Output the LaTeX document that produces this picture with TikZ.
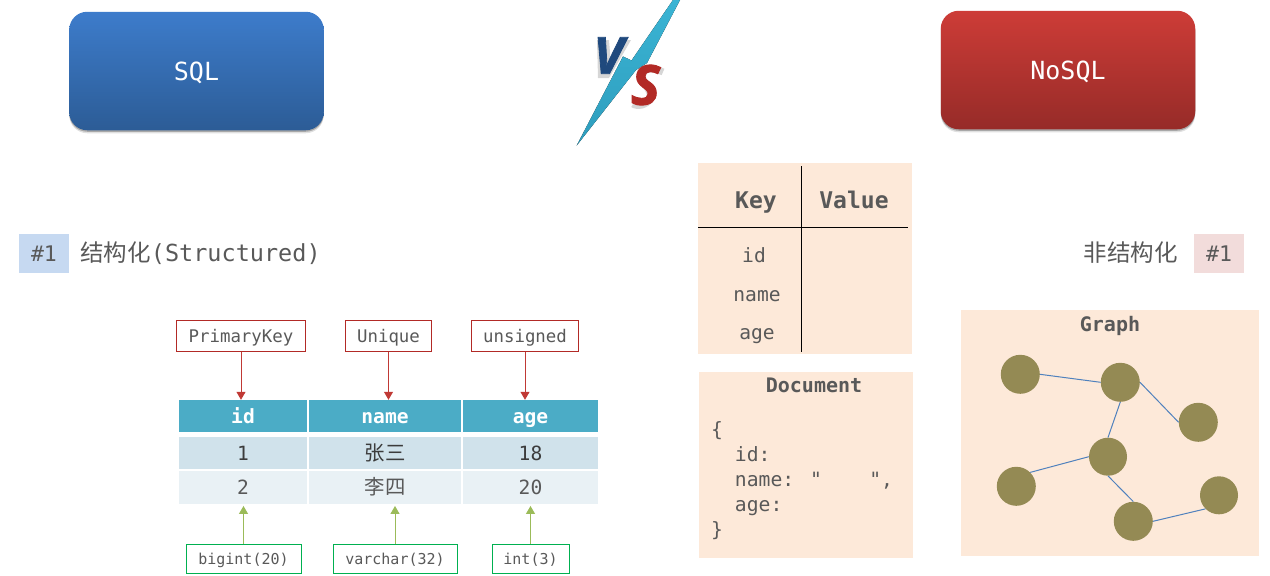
\documentclass[tikz,border=0pt]{standalone}
\usepackage{fontspec}
\setmainfont{Liberation Sans}
\newfontfamily\monofont{DejaVu Sans Mono}
\newfontfamily\cjk{Noto Sans CJK SC}
\newfontfamily\vsfont[BoldItalicFeatures={FakeBold=1.6}]{Open Sans}
\usepackage{tikz}
\usetikzlibrary{arrows.meta,shadows,positioning}
\definecolor{txtgray}{RGB}{89,89,89}
\definecolor{txtdark}{RGB}{60,60,60}
\definecolor{panelpeach}{RGB}{253,233,217}
\definecolor{headteal}{RGB}{75,172,198}
\definecolor{rowdark}{RGB}{208,226,235}
\definecolor{rowlight}{RGB}{233,241,245}
\definecolor{redline}{RGB}{192,57,53}
\definecolor{redborder}{RGB}{178,42,38}
\definecolor{greenline}{RGB}{155,187,89}
\definecolor{greenborder}{RGB}{0,176,80}
\definecolor{graphfill}{RGB}{148,138,84}
\definecolor{graphedge}{RGB}{79,129,189}
\definecolor{sqltop}{RGB}{61,124,203}
\definecolor{sqlbot}{RGB}{44,92,150}
\definecolor{nosqltop}{RGB}{205,60,55}
\definecolor{nosqlbot}{RGB}{150,43,40}
\definecolor{tagblue}{RGB}{198,217,241}
\definecolor{tagred}{RGB}{242,220,219}
\definecolor{vsblue}{RGB}{31,73,125}
\definecolor{bolttop}{RGB}{58,180,212}
\definecolor{boltbot}{RGB}{46,157,189}
\tikzset{
  bigbox/.style={rectangle,rounded corners=18pt,minimum width=254.5pt,minimum height=118.5pt,
    inner sep=0pt,text=white,text height=18pt,text depth=0pt,font=\monofont\fontsize{25}{28}\selectfont,
    drop shadow={shadow xshift=0pt,shadow yshift=-3pt,opacity=.12,fill=black},
    drop shadow={shadow xshift=0pt,shadow yshift=-1.5pt,opacity=.25,fill=black}},
  vsletter/.style={inner sep=0pt,font=\vsfont\bfseries\itshape\fontsize{55}{60}\selectfont},
  vsshadow/.style={black,opacity=.16},
  tagbox/.style={rectangle,minimum width=50pt,minimum height=38.5pt,inner sep=0pt,
    text=txtgray,text height=15.5pt,text depth=0pt,font=\monofont\fontsize{21.5}{24}\selectfont},
  headline/.style={inner sep=0pt,text=txtgray,text height=15.5pt,text depth=0pt,font=\fontsize{23.5}{28}\selectfont},
  headcell/.style={rectangle,fill=headteal,minimum height=32pt,inner sep=0pt,text=white,
    text height=14pt,text depth=0pt,font=\monofont\bfseries\fontsize{19.6}{22}\selectfont},
  rowcell/.style={rectangle,minimum height=32.5pt,inner sep=0pt,text=txtgray,
    text height=14pt,text depth=0pt,font=\monofont\fontsize{19.6}{22}\selectfont},
  cjkcell/.style={font=\cjk\fontsize{20.4}{22}\selectfont},
  redbox/.style={rectangle,draw=redborder,line width=1pt,fill=white,minimum height=31.5pt,inner sep=0pt,
    text=txtgray,text height=12.6pt,text depth=0pt,font=\monofont\fontsize{17.4}{20}\selectfont},
  greenbox/.style={rectangle,draw=greenborder,line width=1pt,fill=white,minimum height=29pt,inner sep=0pt,
    text=txtgray,text height=12pt,text depth=0pt,font=\monofont\fontsize{15}{18}\selectfont},
  redarr/.style={-{Triangle[length=8pt,width=9pt]},line width=1pt,color=redline},
  greenarr/.style={-{Triangle[length=8pt,width=9pt]},line width=1pt,color=greenline},
  panel/.style={rectangle,fill=panelpeach,inner sep=0pt},
  paneltitle/.style={inner sep=0pt,text=txtgray,text height=14pt,text depth=0pt,font=\monofont\bfseries\fontsize{20}{24}\selectfont},
  kvhead/.style={inner sep=0pt,text=txtgray,text height=16pt,text depth=0pt,font=\monofont\bfseries\fontsize{23}{26}\selectfont},
  kvtext/.style={inner sep=0pt,text=txtgray,text height=14pt,text depth=0pt,font=\monofont\fontsize{19.6}{22}\selectfont},
  kvline/.style={black,line width=1pt},
  graphnode/.style={circle,fill=graphfill,minimum size=39pt,inner sep=0pt},
  graphlink/.style={graphedge,line width=1pt}
}
\begin{document}
\begin{tikzpicture}[x=1pt,y=-1pt]
  \useasboundingbox (0,0) rectangle (1270,576);

  %% Title boxes
  \node[bigbox,top color=sqltop,bottom color=sqlbot] (sql) at (196.5,71) {SQL};
  \node[bigbox,top color=nosqltop,bottom color=nosqlbot] (nosql) at (1068,70) {NoSQL};

  %% VS mark
  \fill[vsshadow] (597,40) -- (609,40) -- (611,65) -- (625,40) -- (631,40) -- (609,78) -- (598,78) -- cycle;
  \draw[vsshadow,line width=7pt] (663,72) .. controls (650,65) and (638,70) .. (644,82)
    .. controls (650,92) and (656,100) .. (642,105) .. controls (638,106) and (634,105) .. (633,104);
  \fill[top color=bolttop,bottom color=boltbot]
    (576.7,145.5) -- (623,56.5) -- (631.5,60.5) -- (673,0) -- (680,0) -- (647,63) -- (636,70) -- cycle;
  \node[vsletter,text=vsblue,font=\vsfont\bfseries\itshape\fontsize{51}{60}\selectfont] (vsv) at (608.5,55.5) {V};
  \node[vsletter,text=redborder] (vss) at (645.5,85) {S};

  %% Section tags
  \node[tagbox,fill=tagblue] (tagl) at (44,253.3) {\#1};
  \node[headline,right=11pt of tagl] (headl) {{\cjk 结构化}{\monofont(Structured)}};
  \node[tagbox,fill=tagred] (tagr) at (1219,253.3) {\#1};
  \node[headline,left=16pt of tagr] (headr) {\cjk 非结构化};

  %% SQL table
  \node[headcell,minimum width=128pt] (hid) at (243,416) {id};
  \node[headcell,minimum width=152pt] (hname) at (385,416) {name};
  \node[headcell,minimum width=135pt] (hage) at (530.5,416) {age};
  \node[rowcell,fill=rowdark,text=txtdark,minimum width=128pt] (aid) at (243,453) {1};
  \node[rowcell,cjkcell,fill=rowdark,text=txtdark,minimum width=152pt] (aname) at (385,453) {张三};
  \node[rowcell,fill=rowdark,text=txtdark,minimum width=135pt] (aage) at (530.5,453) {18};
  \node[rowcell,fill=rowlight,minimum width=128pt] (bid) at (243,487.5) {2};
  \node[rowcell,cjkcell,fill=rowlight,minimum width=152pt] (bname) at (385,487.5) {李四};
  \node[rowcell,fill=rowlight,minimum width=135pt] (bage) at (530.5,487.5) {20};

  %% Constraints
  \node[redbox,minimum width=129pt] (pk) at (241,336) {PrimaryKey};
  \node[redbox,minimum width=86pt] (uq) at (388.5,336) {Unique};
  \node[redbox,minimum width=107pt] (us) at (525,336) {unsigned};
  \draw[redarr] (pk.south) -- (pk.south |- hid.north);
  \draw[redarr] (uq.south) -- (uq.south |- hname.north);
  \draw[redarr] (us.south) -- (us.south |- hage.north);

  %% Data types
  \node[greenbox,minimum width=115pt] (tbig) at (243.5,558.5) {bigint(20)};
  \node[greenbox,minimum width=124pt] (tvar) at (395,558.5) {varchar(32)};
  \node[greenbox,minimum width=77pt] (tint) at (530.5,558.5) {int(3)};
  \draw[greenarr] (tbig.north) -- ([yshift=-2pt]tbig.north |- bid.south);
  \draw[greenarr] (tvar.north) -- ([yshift=-2pt]tvar.north |- bname.south);
  \draw[greenarr] (tint.north) -- ([yshift=-2pt]tint.north |- bage.south);

  %% Key-Value
  \node[panel,minimum width=214pt,minimum height=191pt] (kvpanel) at (805,258.5) {};
  \node[kvhead] (kvkey) at (756,200) {Key};
  \node[kvhead] (kvval) at (854,200) {Value};
  \node[kvtext] (kvid) at (754,255) {id};
  \node[kvtext] (kvname) at (757,294) {name};
  \node[kvtext] (kvage) at (757,332.5) {age};
  \coordinate (vtop) at (801,166);
  \coordinate (vbot) at (801,352);
  \coordinate (hleft) at (698,227.5);
  \coordinate (hright) at (907.5,227.5);
  \draw[kvline] (vtop) -- (vbot);
  \draw[kvline] (hleft) -- (hright);

  %% Document
  \node[panel,minimum width=214pt,minimum height=186pt] (docpanel) at (806,465) {};
  \node[paneltitle] (doctitle) at (814,385) {Document};
  \node[anchor=north west,inner sep=0pt,align=left,text=txtgray,font=\monofont\fontsize{19.7}{25}\selectfont] (doccode) at (711,421.5)
    {\{\\\ \ id:\\\ \ name: "\ \ \ \ ",\\\ \ age:\\\}};

  %% Graph
  \node[panel,minimum width=298pt,minimum height=246pt] (graphpanel) at (1110,433) {};
  \node[paneltitle] (graphtitle) at (1110,324) {Graph};
  \node[graphnode] (ga) at (1020.3,374.3) {};
  \node[graphnode] (gb) at (1120.3,382.3) {};
  \node[graphnode] (gc) at (1198.3,422.3) {};
  \node[graphnode,minimum size=38pt] (gd) at (1108,456.7) {};
  \node[graphnode] (ge) at (1016.3,486.3) {};
  \node[graphnode] (gf) at (1133.3,521.3) {};
  \node[graphnode,minimum size=38pt] (gg) at (1219,495.3) {};
  \draw[graphlink] (ga.east) -- (gb.west);
  \draw[graphlink] (gb.east) -- (gc.west);
  \draw[graphlink] (gb.south) -- (gd.north);
  \draw[graphlink] (gd.west) -- (ge.north east);
  \draw[graphlink] (gd.south) -- (gf.north);
  \draw[graphlink] (gf.east) -- (gg.south west);
\end{tikzpicture}
\end{document}
